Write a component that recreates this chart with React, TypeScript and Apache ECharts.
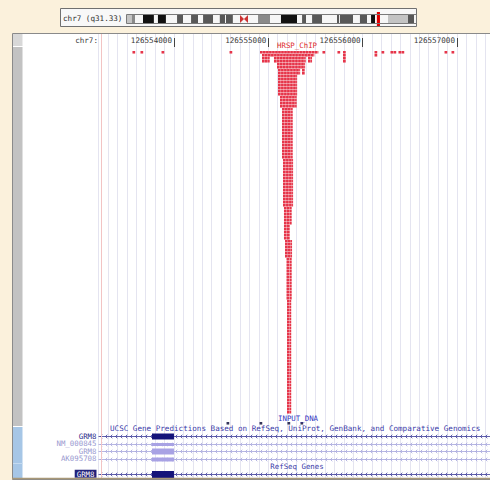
import React, { useEffect, useRef } from 'react';
import * as echarts from 'echarts';

// ---------- data ----------
const VIEW_START = 126553200;
const VIEW_END = 126557350;
const RULER_TICKS = [126554000, 126555000, 126556000, 126557000];
const READ_BP = 32;

// HRSP_ChIP pileup blocks: [rowFrom, rowTo, startBp, endBp]
const CHIP_BLOCKS = [
  [0, 1, 126554912, 126555527],
  [1, 2, 126554933, 126555484],
  [2, 4, 126554933, 126555018],
  [2, 4, 126555060, 126555400],
  [2, 4, 126555421, 126555463],
  [4, 6, 126555092, 126555389],
  [6, 8, 126555103, 126555336],
  [6, 8, 126555357, 126555389],
  [8, 15, 126555103, 126555304],
  [15, 19, 126555124, 126555304],
  [19, 36, 126555145, 126555262],
  [36, 52, 126555156, 126555262],
  [52, 58, 126555166, 126555251],
  [58, 63, 126555166, 126555230],
  [63, 69, 126555177, 126555251],
  [69, 83, 126555193, 126555251],
  [83, 121, 126555198, 126555246],
];
// scattered ChIP reads: [rowFrom, rowTo, startBp, endBp]
const CHIP_SINGLES = [
  [0, 1, 126553560, 126553592],
  [0, 1, 126553645, 126553677],
  [0, 1, 126553868, 126553900],
  [0, 1, 126554589, 126554621],
  [0, 1, 126555574, 126555606],
  [0, 1, 126555733, 126555765],
  [0, 4, 126555792, 126555824],
  [0, 2, 126556126, 126556158],
  [0, 1, 126556200, 126556232],
  [0, 1, 126556295, 126556327],
  [0, 1, 126556327, 126556359],
  [0, 1, 126556380, 126556412],
  [0, 1, 126556412, 126556444],
  [0, 1, 126556868, 126556900],
  [0, 1, 126556942, 126556974],
];
const CHIP_ROWS = 122;
// INPUT_DNA reads: [startBp, endBp]
const INPUT_READS = [
  [126554557, 126554589],
  [126554907, 126554939],
  [126555203, 126555235],
  [126555341, 126555373],
];
// gene track rows
const TRACK_LABELS = ['GRM8', 'NM_000845', 'GRM8', 'AK095708', '', 'GRM8'];
const GENE_ROW = [0, 1, 2, 3, 5];
const GENE_TX_START = [126078652, 126078652, 126078652, 126078652, 126078652];
const GENE_TX_END = [126883522, 126883522, 126883522, 126883522, 126883522];
const GENE_EXON_START = [126553767, 126553767, 126553767, 126553767, 126553767];
const GENE_EXON_END = [126554000, 126554000, 126554000, 126554000, 126554000];
// ideogram bands (Mb)
const BAND_START = [0, 2.7, 4.4, 8.8, 14.8, 17.0, 21.4, 27.5, 30.8, 35.2, 39.0, 41.8, 47.3, 51.0, 53.9, 54.4, 58.2, 62.1, 66.5, 72.0, 78.6, 84.6, 93.4, 96.2, 98.4, 101.7, 107.2, 115.4, 116.5, 117.0, 124.2, 128.0, 131.9, 134.1, 136.3, 143.4, 154.4, 157.7];
const BAND_END = [2.7, 4.4, 8.8, 14.8, 17.0, 21.4, 27.5, 30.8, 35.2, 39.0, 41.8, 47.3, 51.0, 53.9, 54.4, 58.2, 62.1, 66.5, 72.0, 78.6, 84.6, 93.4, 96.2, 98.4, 101.7, 107.2, 115.4, 116.5, 117.0, 124.2, 128.0, 131.9, 134.1, 136.3, 143.4, 154.4, 157.7, 158.8];
const BAND_STAIN = ['gpos25', 'gpos50', 'gneg', 'gpos100', 'gneg', 'gpos100', 'gneg', 'gpos75', 'gneg', 'gpos75', 'gneg', 'gpos75', 'gneg', 'gpos75', 'gneg', 'gpos75', 'gneg', 'acen', 'gneg', 'gpos50', 'gneg', 'gpos100', 'gneg', 'gpos75', 'gneg', 'gpos75', 'gneg', 'gpos75', 'gneg', 'gpos75', 'gneg', 'gpos75', 'gneg', 'gpos100', 'gneg', 'gpos25', 'gpos75', 'gneg'];
const CHROM_LENGTH = 158.8;
const MARKER = [137.3, 139.0];

// ---------- styles ----------
const MONO = 'DejaVu Sans Mono';
const RED = '#e6354a';
const STAIN_COLOR: Record<string, string> = {
  gneg: '#f6f6f6', gpos25: '#c4c4c4', gpos50: '#8a8a8a', gpos75: '#585858', gpos100: '#111111', acen: '#cc3333',
};
const GENE_STYLE: Record<number, { line: string; exon: string; h: number }> = {
  0: { line: '#3a3a98', exon: '#14147a', h: 6 },
  1: { line: '#a4a4dc', exon: '#a8a2e4', h: 3 },
  2: { line: '#a4a4dc', exon: '#a8a2e4', h: 6 },
  3: { line: '#a4a4dc', exon: '#a8a2e4', h: 4 },
  5: { line: '#3a3a98', exon: '#14147a', h: 7 },
};

function buildOption() {
  const L = 98.5;
  const grids = [
    { left: L, right: 0, top: 34, bottom: 2 },
    { left: L, right: 0, top: 46, height: 1 },
    { left: L, right: 0, top: 51, height: CHIP_ROWS * 3 },
    { left: L, right: 0, top: 422, height: 3 },
    { left: L, right: 0, top: 432.5, height: 45 },
    { left: 127, width: 289, top: 15, height: 8 },
  ];
  const hiddenX = (i: number) => ({
    type: 'value', gridIndex: i, min: VIEW_START, max: VIEW_END, show: false,
  });
  const xAxis: any[] = [
    {
      type: 'value', gridIndex: 0, min: VIEW_START, max: VIEW_END, interval: 100,
      axisLine: { show: false }, axisTick: { show: false }, axisLabel: { show: false },
      splitLine: { show: true, lineStyle: { color: '#e4e4f0', width: 1 } },
    },
    {
      type: 'value', gridIndex: 1, min: VIEW_START, max: VIEW_END, position: 'top',
      axisLine: { show: false },
      axisTick: { show: true, customValues: RULER_TICKS, length: 9, lineStyle: { color: '#444', width: 1 } },
      axisLabel: {
        show: true, customValues: RULER_TICKS, formatter: (v: number) => String(v),
        align: 'right', verticalAlign: 'middle', margin: 6, padding: [0, 2, 0, 0],
        fontFamily: MONO, fontSize: 7.6, color: '#3a3a3a',
      },
      splitLine: { show: false },
    },
    hiddenX(2), hiddenX(3), hiddenX(4),
    { type: 'value', gridIndex: 5, min: 0, max: CHROM_LENGTH, show: false },
  ];
  const yAxis: any[] = [
    { type: 'value', gridIndex: 0, show: false },
    { type: 'value', gridIndex: 1, show: false },
    { type: 'value', gridIndex: 2, min: 0, max: CHIP_ROWS, inverse: true, show: false },
    { type: 'value', gridIndex: 3, min: 0, max: 1, inverse: true, show: false },
    {
      type: 'category', gridIndex: 4, inverse: true, data: TRACK_LABELS.map((_, i) => String(i)),
      axisLine: { show: false }, axisTick: { show: false }, splitLine: { show: false },
      axisLabel: {
        show: true, margin: 2, fontFamily: MONO, fontSize: 7.4, interval: 0,
        formatter: (_v: string, idx: number) => {
          const t = TRACK_LABELS[idx];
          if (!t) return '';
          if (idx === 5) return `{h|${t}}`;
          if (idx === 0) return `{d|${t}}`;
          return `{l|${t}}`;
        },
        rich: {
          d: { color: '#2a2a8a', fontFamily: MONO, fontSize: 7.4 },
          l: { color: '#9a9ad0', fontFamily: MONO, fontSize: 7.4 },
          h: { color: '#ffffff', backgroundColor: '#22227a', fontFamily: MONO, fontSize: 7.4, padding: [1, 2, 0, 2] },
        },
      },
    },
    { type: 'value', gridIndex: 5, min: 0, max: 1, show: false },
  ];

  const readsRender = (color: string) => (params: any, api: any) => {
    const r0 = api.value(0), r1 = api.value(1), s = api.value(2), e = api.value(3);
    const children: any[] = [];
    for (let r = r0; r < r1; r++) {
      const yTop = api.coord([s, r])[1];
      const yBot = api.coord([s, r + 1])[1];
      for (let c = s; c < e; c += READ_BP) {
        const ce = Math.min(c + READ_BP, e);
        const x0 = api.coord([c, r])[0];
        const x1 = api.coord([ce, r])[0];
        children.push({
          type: 'rect',
          shape: { x: x0, y: yTop, width: Math.max(x1 - x0 - 0.3, 1), height: Math.max(yBot - yTop - 0.45, 1) },
          style: { fill: color },
        });
      }
    }
    return { type: 'group', children };
  };

  const series: any[] = [
    {
      type: 'custom', name: 'HRSP_ChIP', xAxisIndex: 2, yAxisIndex: 2, silent: true,
      data: [...CHIP_BLOCKS, ...CHIP_SINGLES],
      encode: { x: [2, 3], y: [0, 1] },
      renderItem: readsRender(RED),
    },
    {
      type: 'custom', name: 'INPUT_DNA', xAxisIndex: 3, yAxisIndex: 3, silent: true,
      data: INPUT_READS.map(([s, e]) => [0, 1, s, e]),
      encode: { x: [2, 3], y: [0, 1] },
      renderItem: readsRender('#34345a'),
    },
    {
      type: 'custom', name: 'genes', xAxisIndex: 4, yAxisIndex: 4, silent: true,
      data: GENE_ROW.map((r, i) => [r, GENE_TX_START[i], GENE_TX_END[i], GENE_EXON_START[i], GENE_EXON_END[i]]),
      encode: { x: [1, 2, 3, 4], y: 0 },
      renderItem: (params: any, api: any) => {
        const row = api.value(0);
        const cs = params.coordSys;
        const st = GENE_STYLE[row];
        const cy = Math.round(api.coord([api.value(3), row])[1]) + 0.5;
        const x0 = Math.max(api.coord([api.value(1), row])[0], cs.x);
        const x1 = Math.min(api.coord([api.value(2), row])[0], cs.x + cs.width);
        const children: any[] = [
          { type: 'line', shape: { x1: x0, y1: cy, x2: x1, y2: cy }, style: { stroke: st.line, lineWidth: 0.8 } },
        ];
        for (let x = x0 + 2; x < x1 - 2; x += 5) {
          children.push({
            type: 'polyline',
            shape: { points: [[x + 1.8, cy - 1.8], [x, cy], [x + 1.8, cy + 1.8]] },
            style: { stroke: st.line, lineWidth: 0.8, fill: 'none' },
          });
        }
        const ex0 = api.coord([api.value(3), row])[0];
        const ex1 = api.coord([api.value(4), row])[0];
        children.push({
          type: 'rect', shape: { x: ex0, y: cy - st.h / 2, width: ex1 - ex0, height: st.h },
          style: { fill: st.exon },
        });
        return { type: 'group', children };
      },
    },
    {
      type: 'custom', name: 'ideogram', xAxisIndex: 5, yAxisIndex: 5, silent: true,
      data: BAND_START.map((s, i) => [s, BAND_END[i]]),
      encode: { x: [0, 1] },
      renderItem: (params: any, api: any) => {
        const stain = BAND_STAIN[params.dataIndex];
        const cs = params.coordSys;
        const xa = api.coord([api.value(0), 0])[0];
        const xb = api.coord([api.value(1), 0])[0];
        const top = cs.y, bot = cs.y + cs.height, cy = cs.y + cs.height / 2;
        if (stain === 'acen') {
          const mid = (xa + xb) / 2;
          return {
            type: 'group', children: [
              { type: 'rect', shape: { x: xa, y: top, width: xb - xa, height: cs.height }, style: { fill: '#f6f6f6' } },
              { type: 'polygon', shape: { points: [[xa, top], [mid, cy], [xa, bot]] }, style: { fill: STAIN_COLOR.acen } },
              { type: 'polygon', shape: { points: [[xb, top], [mid, cy], [xb, bot]] }, style: { fill: STAIN_COLOR.acen } },
            ],
          };
        }
        return {
          type: 'rect', shape: { x: xa, y: top, width: xb - xa, height: cs.height },
          style: { fill: STAIN_COLOR[stain] },
        };
      },
    },
    {
      type: 'custom', name: 'position', xAxisIndex: 5, yAxisIndex: 5, silent: true, z: 5,
      data: [MARKER],
      encode: { x: [0, 1] },
      renderItem: (params: any, api: any) => {
        const cs = params.coordSys;
        const xa = api.coord([api.value(0), 0])[0];
        const xb = api.coord([api.value(1), 0])[0];
        return {
          type: 'rect', shape: { x: xa, y: cs.y - 3, width: Math.max(xb - xa, 2), height: cs.height + 6 },
          style: { fill: '#e00000' },
        };
      },
    },
  ];

  const txt = (text: string, x: number, y: number, fill: string, align = 'center', size = 7.4) => ({
    type: 'text', x, y, z: 50, silent: true,
    style: { text, fill, align, verticalAlign: 'middle', font: `${size}px "${MONO}"` },
  });

  const graphic: any[] = [
    // ideogram box
    { type: 'rect', z: -5, shape: { x: 60.5, y: 8.5, width: 356, height: 18 }, style: { fill: '#f8f8f8', stroke: '#707070', lineWidth: 1 } },
    txt('chr7 (q31.33)', 63, 18, '#2e2e2e', 'left', 7.6),
    { type: 'rect', z: 50, shape: { x: 126.5, y: 14.5, width: 290, height: 9 }, style: { fill: 'none', stroke: '#7a7a7a', lineWidth: 1 } },
    // main panel
    { type: 'rect', z: -10, shape: { x: 12.5, y: 33.5, width: 480, height: 446 }, style: { fill: '#ffffff', stroke: '#8a8a8a', lineWidth: 1 } },
    { type: 'rect', z: -9, shape: { x: 13, y: 34, width: 9.5, height: 12 }, style: { fill: '#d8d8d8' } },
    { type: 'rect', z: -9, shape: { x: 13, y: 47, width: 9.5, height: 379 }, style: { fill: '#c2c2c2' } },
    { type: 'rect', z: -9, shape: { x: 13, y: 427, width: 9.5, height: 51 }, style: { fill: '#a6c6e6' } },
    { type: 'line', z: -8, shape: { x1: 13, y1: 463.5, x2: 22.5, y2: 463.5 }, style: { stroke: '#c4daf0', lineWidth: 1 } },
    { type: 'line', z: 40, shape: { x1: 101.5, y1: 34, x2: 101.5, y2: 478 }, style: { stroke: '#f2c4c4', lineWidth: 1 } },
    { type: 'line', z: 40, shape: { x1: 12, y1: 478.5, x2: 490, y2: 478.5 }, style: { stroke: '#a89878', lineWidth: 1.5 } },
    // labels
    txt('chr7:', 98, 40, '#3a3a3a', 'right', 7.6),
    txt('HRSP_ChIP', 297, 45.5, '#e02a2a'),
    txt('INPUT_DNA', 298, 418, '#3434c0'),
    txt('UCSC Gene Predictions Based on RefSeq, UniProt, GenBank, and Comparative Genomics', 110, 428.5, '#3a3aa8', 'left', 7.6),
    txt('RefSeq Genes', 297, 466.5, '#3a3aa8'),
  ];

  return {
    animation: false,
    backgroundColor: '#fbf1dc',
    grid: grids,
    xAxis,
    yAxis,
    series,
    graphic,
  };
}

export default function App() {
  const ref = useRef<HTMLDivElement>(null);
  useEffect(() => {
    if (!ref.current) return;
    const chart = echarts.init(ref.current, undefined, { renderer: 'svg' });
    chart.setOption(buildOption() as any);
    return () => chart.dispose();
  }, []);
  return <div ref={ref} style={{ position: 'absolute', left: 0, top: 0, width: 490, height: 480 }} />;
}
